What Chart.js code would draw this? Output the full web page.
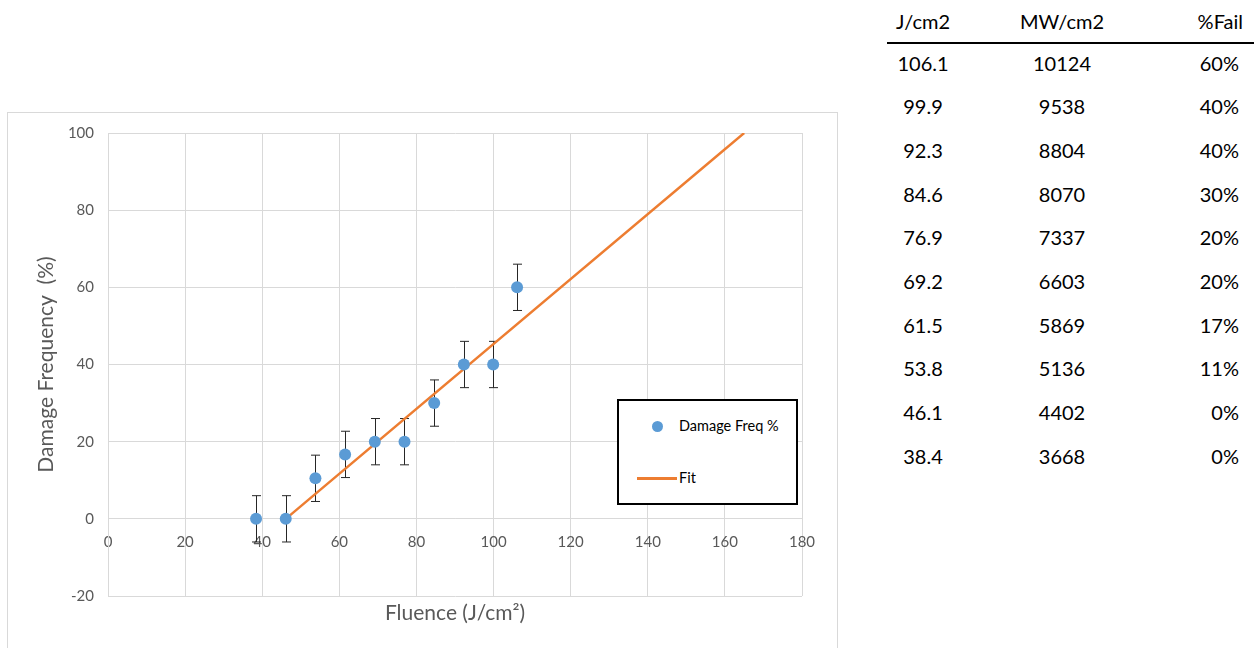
<!DOCTYPE html>
<html>
<head>
<meta charset="utf-8">
<script src="https://cdn.jsdelivr.net/npm/chart.js@4.4.0/dist/chart.umd.min.js"></script>
<style>
  body { margin: 0; width: 1254px; height: 648px; overflow: hidden; background: #fff; font-family: Lato, sans-serif; position: relative; }
  #frame { position: absolute; left: 7px; top: 112px; width: 829px; height: 580px; border: 1px solid #d9d9d9; }
  #wrap { position: absolute; left: 0; top: 0; width: 840px; height: 648px; }
  #legend { position: absolute; left: 617px; top: 399px; width: 181px; height: 106px; border: 2px solid #000; background: #fff; box-sizing: border-box; }
  #legend .dot { position: absolute; left: 33px; top: 20px; width: 11px; height: 11px; border-radius: 50%; background: #5b9bd5; }
  #legend .ln { position: absolute; left: 18px; top: 76px; width: 40px; height: 3px; background: #ed7d31; }
  #legend .lbl { position: absolute; left: 60px; font-size: 14.5px; color: #000; line-height: 18px; }
  .cell { position: absolute; font-size: 20px; line-height: 24px; color: #000; width: 120px; }
  #rule { position: absolute; left: 887px; top: 42px; width: 367px; height: 2px; background: #000; }
</style>
</head>
<body>
<div id="frame"></div>
<div id="wrap"><canvas id="chart"></canvas></div>
<div id="legend">
  <div class="dot"></div><div class="lbl" style="top:16px">Damage Freq %</div>
  <div class="ln"></div><div class="lbl" style="top:68px">Fit</div>
</div>
<div id="table"></div>
<div id="rule"></div>
<script>
// --- DADOS DO GRÁFICO ---
const fluence = [38.4, 46.1, 53.8, 61.5, 69.2, 76.9, 84.6, 92.3, 99.9, 106.1];
const damageFreq = [0, 0, 10.5, 16.7, 20, 20, 30, 40, 40, 60];
const errorPlusMinus = [6, 6, 6, 6, 6, 6, 6, 6, 6, 6];
const fitX = [46.1, 165];
const fitY = [0, 100];

// --- DADOS DA TABELA ---
const tableHeaders = ['J/cm2', 'MW/cm2', '%Fail'];
const colJcm2 = ['106.1', '99.9', '92.3', '84.6', '76.9', '69.2', '61.5', '53.8', '46.1', '38.4'];
const colMWcm2 = ['10124', '9538', '8804', '8070', '7337', '6603', '5869', '5136', '4402', '3668'];
const colFail = ['60%', '40%', '40%', '30%', '20%', '20%', '17%', '11%', '0%', '0%'];

// monta a tabela à direita
const table = document.getElementById('table');
const addCell = (text, left, center, align) => {
    const div = document.createElement('div');
    div.className = 'cell';
    div.textContent = text;
    div.style.left = left + 'px';
    div.style.top = (center - 12.5) + 'px';
    div.style.textAlign = align;
    table.appendChild(div);
};
addCell(tableHeaders[0], 863, 21.5, 'center');
addCell(tableHeaders[1], 1002, 21.5, 'center');
addCell(tableHeaders[2], 1123, 21.5, 'right');
colJcm2.forEach((v, i) => {
    const y = 63 + i * 43.7;
    addCell(v, 863, y, 'center');
    addCell(colMWcm2[i], 1002, y, 'center');
    addCell(colFail[i], 1119, y, 'right');
});

// barras de erro desenhadas pelas escalas do gráfico
const errorBarsPlugin = {
    id: 'errorBars',
    beforeDatasetsDraw(chart) {
        const { ctx, scales: { x, y } } = chart;
        ctx.save();
        ctx.strokeStyle = '#262626';
        ctx.lineWidth = 1;
        fluence.forEach((fx, i) => {
            const px = Math.round(x.getPixelForValue(fx)) + 0.5;
            const top = y.getPixelForValue(damageFreq[i] + errorPlusMinus[i]);
            const bot = y.getPixelForValue(damageFreq[i] - errorPlusMinus[i]);
            ctx.beginPath();
            ctx.moveTo(px, top); ctx.lineTo(px, bot);
            ctx.moveTo(px - 4.5, top); ctx.lineTo(px + 4.5, top);
            ctx.moveTo(px - 4.5, bot); ctx.lineTo(px + 4.5, bot);
            ctx.stroke();
        });
        ctx.restore();
    }
};

const tickFont = { family: 'Lato', size: 15 };
const titleFont = { family: 'Lato', size: 21 };

new Chart(document.getElementById('chart'), {
    type: 'scatter',
    data: {
        datasets: [{
            label: 'Damage Freq %',
            data: fluence.map((v, i) => ({ x: v, y: damageFreq[i] })),
            backgroundColor: '#5b9bd5',
            borderColor: '#5b9bd5',
            borderWidth: 0,
            pointRadius: 6,
            pointHoverRadius: 6
        }, {
            label: 'Fit',
            type: 'line',
            data: fitX.map((v, i) => ({ x: v, y: fitY[i] })),
            borderColor: '#ed7d31',
            borderWidth: 2.5,
            pointRadius: 0,
            fill: false
        }]
    },
    options: {
        responsive: true,
        maintainAspectRatio: false,
        animation: false,
        layout: { padding: { left: 34, right: 38, top: 133, bottom: 52 } },
        plugins: { legend: { display: false }, tooltip: { enabled: false } },
        scales: {
            x: {
                type: 'linear',
                position: { y: 0 },
                min: 0, max: 180,
                ticks: { stepSize: 20, color: '#595959', font: tickFont, padding: 14, maxRotation: 0 },
                grid: { color: '#d9d9d9', drawTicks: false },
                border: { color: '#d9d9d9' },
                title: { display: true, text: 'Fluence (J/cm²)', color: '#595959', font: titleFont },
                afterFit: (s) => { s.height = 111; }
            },
            y: {
                min: -20, max: 100,
                ticks: { stepSize: 20, color: '#595959', font: tickFont, padding: 14 },
                grid: { color: '#d9d9d9', drawTicks: false },
                border: { color: '#d9d9d9' },
                title: { display: true, text: 'Damage Frequency  (%)', color: '#595959', font: titleFont, padding: { top: 0, bottom: 0 } },
                afterFit: (s) => { s.width = 74; }
            }
        }
    },
    plugins: [errorBarsPlugin]
});
</script>
</body>
</html>
